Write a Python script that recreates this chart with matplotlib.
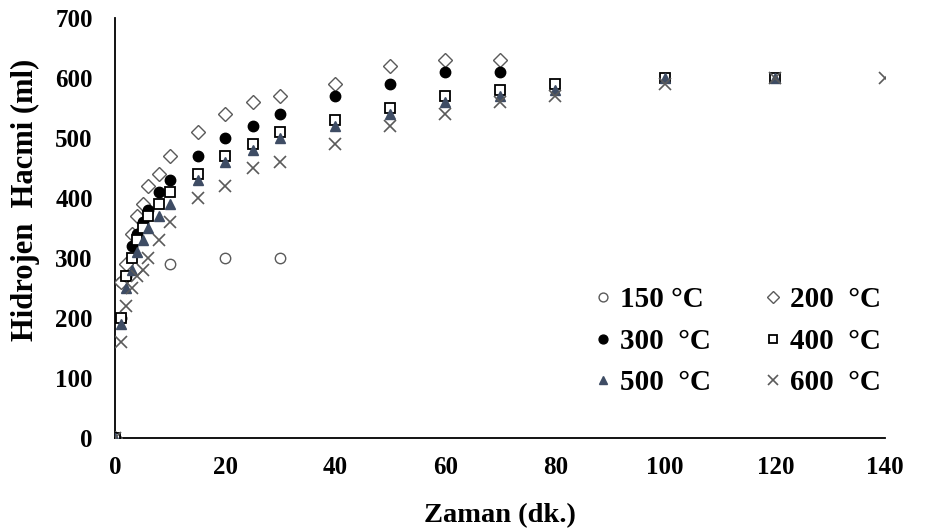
import numpy as np
import matplotlib.pyplot as plt

plt.rcParams['font.family'] = ['Liberation Serif', 'DejaVu Serif']
plt.rcParams['font.weight'] = 'bold'

# zaman (dk.) ve hidrojen hacmi (ml)
t_150 = [0, 1, 10, 20, 30]
v_150 = [0, 260, 290, 300, 300]

t_200 = [0, 1, 2, 3, 4, 5, 6, 8, 10, 15, 20, 25, 30, 40, 50, 60, 70]
v_200 = [0, 260, 290, 340, 370, 390, 420, 440, 470, 510, 540, 560, 570, 590, 620, 630, 630]

t_300 = [0, 1, 2, 3, 4, 5, 6, 8, 10, 15, 20, 25, 30, 40, 50, 60, 70]
v_300 = [0, 200, 270, 320, 340, 360, 380, 410, 430, 470, 500, 520, 540, 570, 590, 610, 610]

t_400 = [0, 1, 2, 3, 4, 5, 6, 8, 10, 15, 20, 25, 30, 40, 50, 60, 70, 80, 100, 120]
v_400 = [0, 200, 270, 300, 330, 350, 370, 390, 410, 440, 470, 490, 510, 530, 550, 570, 580, 590, 600, 600]

t_500 = [0, 1, 2, 3, 4, 5, 6, 8, 10, 15, 20, 25, 30, 40, 50, 60, 70, 80, 100, 120]
v_500 = [0, 190, 250, 280, 310, 330, 350, 370, 390, 430, 460, 480, 500, 520, 540, 560, 570, 580, 600, 600]

t_600 = [0, 1, 2, 3, 4, 5, 6, 8, 10, 15, 20, 25, 30, 40, 50, 60, 70, 80, 100, 120, 140]
v_600 = [0, 160, 220, 250, 270, 280, 300, 330, 360, 400, 420, 450, 460, 490, 520, 540, 560, 570, 590, 600, 600]

fig = plt.figure(figsize=(9.28, 5.31), dpi=100)
ax = fig.add_axes([0.124, 0.175, 0.83, 0.791])

gray = '#5a5a5a'
h150, = ax.plot(t_150, v_150, 'o', ms=7.5, mfc='white', mec=gray, mew=1.0, ls='none', label='150 °C', zorder=3)
h200, = ax.plot(t_200, v_200, 'D', ms=7.5, mfc='white', mec=gray, mew=1.0, ls='none', label='200  °C', zorder=3)
h300, = ax.plot(t_300, v_300, 'o', ms=7.5, mfc='black', mec='black', ls='none', label='300  °C', zorder=4)
h400, = ax.plot(t_400, v_400, 's', ms=7.5, mfc='white', mec='black', mew=1.3, ls='none', label='400  °C', zorder=5)
h500, = ax.plot(t_500, v_500, '^', ms=7.5, mfc='#3e4c64', mec='#3e4c64', ls='none', label='500  °C', zorder=6)
h600, = ax.plot(t_600, v_600, 'x', ms=9, mec=gray, mew=1.2, ls='none', label='600  °C', zorder=7)

ax.set_xlim(0, 140)
ax.set_ylim(0, 700)
ax.set_xticks(np.arange(0, 141, 20))
ax.set_yticks(np.arange(0, 701, 100))
ax.tick_params(length=0, labelsize=18)
ax.tick_params(axis='y', pad=16)
ax.tick_params(axis='x', pad=13)
for lab in ax.get_xticklabels() + ax.get_yticklabels():
    lab.set_fontweight('bold')

for s in ['top', 'right']:
    ax.spines[s].set_visible(False)
for s in ['left', 'bottom']:
    ax.spines[s].set_linewidth(1.3)
    ax.spines[s].set_color('black')

ax.set_xlabel('Zaman (dk.)', fontsize=20.5, fontweight='bold', labelpad=17)
ax.set_ylabel('Hidrojen  Hacmi (ml)', fontsize=22, fontweight='bold')
ax.yaxis.set_label_coords(-0.097, 0.567)

leg = ax.legend(handles=[h150, h300, h500, h200, h400, h600], ncol=2, frameon=False,
                loc='upper left', bbox_to_anchor=(0.603, 0.396), borderpad=0,
                prop={'weight': 'bold', 'size': 21}, handlelength=0.6,
                handletextpad=0.3, columnspacing=1.8, labelspacing=0.5,
                markerscale=0.85)

fig.savefig('out.png', dpi=100)
